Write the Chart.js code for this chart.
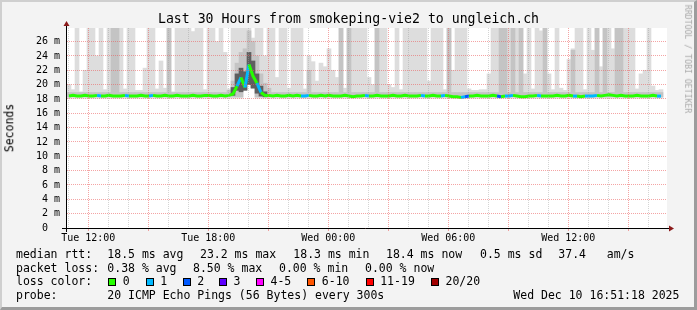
<!DOCTYPE html>
<html>
<head>
<meta charset="utf-8">
<script src="https://cdn.jsdelivr.net/npm/chart.js@4.4.0/dist/chart.umd.min.js"></script>
<style>
  html, body { margin: 0; padding: 0; }
  body { width: 697px; height: 310px; overflow: hidden; position: relative; background: #f3f3f3; font-family: 'DejaVu Sans Mono', monospace; }
  #frame { position: absolute; left: 0; top: 0; width: 697px; height: 310px; box-sizing: border-box;
           border-top: 2px solid #cfcfcf; border-left: 2px solid #cfcfcf; border-right: 3px solid #9c9c9c; border-bottom: 3px solid #9c9c9c; }
  canvas { position: absolute; left: 0; top: 0; }
  .t { position: absolute; white-space: pre; line-height: 1; color: #000; font-size: 11.5px; }
  #title { left: 0; width: 697px; top: 12px; text-align: center; font-size: 13.2px; }
  #ylab { left: 10px; top: 127.5px; transform: translate(-50%, -50%) rotate(-90deg); font-size: 11.5px; }
  #wm { left: 688px; top: 59px; transform: translate(-50%, -50%) rotate(90deg); font-size: 8.2px; color: #a8a8a8; }
  .box { position: absolute; width: 6px; height: 6px; border: 1px solid #000; top: 278px; }
</style>
</head>
<body>
<div id="frame"></div>
<canvas id="chart" width="697" height="310"></canvas>
<div class="t" id="title">Last 30 Hours from smokeping-vie2 to ungleich.ch</div>
<div class="t" id="ylab">Seconds</div>
<div class="t" id="wm">RRDTOOL / TOBI OETIKER</div>

<div class="t" style="left:16px;top:249px">median rtt:</div>
<div class="t" style="left:107.3px;top:249px">18.5 ms avg</div>
<div class="t" style="left:200px;top:249px">23.2 ms max</div>
<div class="t" style="left:293.3px;top:249px">18.3 ms min</div>
<div class="t" style="left:386px;top:249px">18.4 ms now</div>
<div class="t" style="left:480px;top:249px">0.5 ms sd</div>
<div class="t" style="left:558.3px;top:249px">37.4   am/s</div>

<div class="t" style="left:16px;top:262.6px">packet loss:</div>
<div class="t" style="left:107.3px;top:262.6px">0.38 % avg</div>
<div class="t" style="left:193px;top:262.6px">8.50 % max</div>
<div class="t" style="left:279px;top:262.6px">0.00 % min</div>
<div class="t" style="left:365px;top:262.6px">0.00 % now</div>

<div class="t" style="left:16px;top:276.3px">loss color:</div>
<div id="losslegend"></div>

<div class="t" style="left:16px;top:289.6px">probe:</div>
<div class="t" style="left:107.3px;top:289.6px">20 ICMP Echo Pings (56 Bytes) every 300s</div>
<div class="t" style="left:513.3px;top:289.6px">Wed Dec 10 16:51:18 2025</div>

<script>
// time axis: graph starts Tue 10:56, one smoke column = 12 minutes
const startHour = 10.935;
const colHours = 0.2;

const xTickHours = [12, 18, 24, 30, 36];
const xTickLabels = ['Tue 12:00', 'Tue 18:00', 'Wed 00:00', 'Wed 06:00', 'Wed 12:00'];
const yTickValues = [0, 2, 4, 6, 8, 10, 12, 14, 16, 18, 20, 22, 24, 26];
const yTickLabels = ['0  ', '2 m', '4 m', '6 m', '8 m', '10 m', '12 m', '14 m', '16 m', '18 m', '20 m', '22 m', '24 m', '26 m'];

const lossLabels = ['0', '1', '2', '3', '4-5', '6-10', '11-19', '20/20'];
const lossColors = ['#26ff00', '#00b8ff', '#0059ff', '#5e00ff', '#ff00ff', '#ff5500', '#ff0000', '#a10000'];
const lossBoxX = [108.3, 145.7, 182.7, 219, 256, 307.3, 365.7, 431];

// smoke, ms: outer band top (light), inner band top (mid)
const smokeMax = [
  20.0, 19.3, 28, 19.0, 22.0, 28, 28, 24.0, 28, 19.3, 28, 28, 28, 28, 19.4, 28, 28, 19.2, 19.2, 22.3,
  28, 28, 19.4, 23.3, 19.5, 28, 19.0, 28, 28, 28,
  28, 27.4, 28, 28, 19.3, 28, 28, 26, 28, 24.5, 19.4, 28, 28, 28, 28, 28, 26.5, 28, 28, 24,
  28, 28, 21, 28, 28, 19.5, 28, 28, 28, 19.4,
  24, 23.2, 20.5, 23, 22.5, 25, 22, 21, 28, 19.5, 28, 28, 28, 28, 28, 21, 20, 28, 28, 28,
  20, 19.6, 28, 19.3, 28, 28, 28, 28, 28, 28,
  20.5, 28, 28, 28, 19.3, 28, 22, 28, 28, 28, 19.4, 19.2, 19.2, 19.3, 19.3, 21.5, 28, 28, 28, 28,
  28, 28, 28, 28, 21.5, 28, 19.4, 28, 27.5, 28,
  21.5, 19.3, 28, 19.5, 19.2, 23.5, 25, 28, 28, 19.3, 28, 24.8, 28, 22.5, 28, 28, 25, 28, 28, 28,
  28, 28, 19.4, 21.5, 22, 28, 19.8, 19.2, 19.3
];
const smokeMid = [
  18.9, 18.9, 18.9, 18.9, 18.9, 18.9, 18.9, 18.9, 18.9, 18.9, 18.9, 28, 28, 18.9, 18.9, 18.9, 18.9, 18.9, 18.9, 18.9,
  18.9, 18.9, 18.9, 18.9, 18.9, 28, 18.9, 18.9, 18.9, 18.9,
  18.9, 18.9, 18.9, 18.9, 18.9, 18.9, 18.9, 18.9, 18.9, 18.9, 19.2, 20.5, 23, 24.5, 25, 27.5, 26, 24, 21.5, 20.2,
  19.5, 18.9, 18.9, 18.9, 18.9, 18.9, 18.9, 18.9, 18.9, 18.9,
  22, 18.9, 18.9, 18.9, 18.9, 18.9, 18.9, 18.9, 28, 18.9, 28, 18.9, 18.9, 18.9, 18.9, 18.9, 18.9, 28, 18.9, 18.9,
  18.9, 18.9, 18.9, 18.9, 18.9, 18.9, 18.9, 18.9, 18.9, 18.9,
  18.9, 18.9, 18.9, 18.9, 18.9, 28, 18.9, 18.9, 18.9, 18.9, 18.9, 18.9, 18.9, 18.9, 18.9, 18.9, 18.9, 18.9, 28, 28,
  18.9, 28, 18.9, 28, 18.9, 18.9, 18.9, 18.9, 18.9, 28,
  18.9, 18.9, 18.9, 18.9, 18.9, 18.9, 24.8, 18.9, 18.9, 18.9, 18.9, 18.9, 28, 18.9, 28, 18.9, 18.9, 28, 28, 18.9,
  18.9, 18.9, 18.9, 18.9, 18.9, 18.9, 18.9, 18.9, 18.9
];
const smokeFloor = 18.1;
const raisedFloor = { 44: 19.3, 45: 20.0, 46: 19.6 };

// dense core of the smoke during the evening peak
const darkFrom = 41;
const darkTop = [19.6, 21.5, 22.3, 21.8, 24.5, 23.3, 21.5, 19.8, 19.0];
const darkLow = [18.5, 19.2, 19.0, 19.2, 20.0, 19.5, 18.8, 18.4, 18.3];

// median rtt (ms) and loss class per column
const median = [
  18.4, 18.5, 18.4, 18.4, 18.5, 18.4, 18.4, 18.5, 18.4, 18.4, 18.5, 18.4, 18.4, 18.4, 18.5, 18.4, 18.4, 18.4, 18.5, 18.4,
  18.4, 18.5, 18.4, 18.4, 18.5, 18.4, 18.4, 18.5, 18.4, 18.4,
  18.4, 18.5, 18.4, 18.4, 18.5, 18.5, 18.4, 18.4, 18.5, 18.4, 18.5, 18.7, 19.8, 21.0, 19.6, 22.8, 21.2, 20.2, 18.9, 18.5,
  18.5, 18.4, 18.5, 18.4, 18.4, 18.5, 18.4, 18.5, 18.4, 18.4,
  18.5, 18.4, 18.4, 18.5, 18.4, 18.5, 18.4, 18.4, 18.4, 18.5, 18.4, 18.3, 18.4, 18.4, 18.5, 18.4, 18.4, 18.5, 18.4, 18.4,
  18.4, 18.5, 18.4, 18.4, 18.5, 18.4, 18.4, 18.4, 18.5, 18.4,
  18.4, 18.5, 18.4, 18.4, 18.5, 18.4, 18.3, 18.3, 18.2, 18.3, 18.4, 18.4, 18.5, 18.4, 18.4, 18.4, 18.5, 18.4, 18.3, 18.4,
  18.4, 18.5, 18.4, 18.3, 18.3, 18.4, 18.4, 18.5, 18.4, 18.4,
  18.4, 18.4, 18.5, 18.4, 18.4, 18.5, 18.4, 18.4, 18.3, 18.4, 18.4, 18.4, 18.5, 18.4, 18.5, 18.6, 18.5, 18.4, 18.5, 18.4,
  18.4, 18.4, 18.5, 18.4, 18.4, 18.4, 18.5, 18.4, 18.4
];
const loss = [
  1, 0, 0, 0, 0, 0, 0, 0, 1, 0, 0, 0, 0, 0, 0, 1, 0, 0, 0, 0,
  0, 1, 0, 0, 0, 0, 0, 0, 0, 0,
  0, 0, 0, 0, 0, 0, 0, 0, 0, 0, 0, 0, 0, 1, 0, 1, 0, 0, 1, 0,
  0, 0, 0, 0, 0, 0, 0, 0, 0, 1,
  1, 0, 0, 0, 0, 0, 0, 0, 0, 0, 0, 0, 0, 0, 0, 1, 0, 0, 0, 0,
  0, 0, 0, 0, 0, 0, 0, 0, 0, 1,
  0, 0, 0, 0, 1, 0, 0, 0, 0, 1, 2, 0, 0, 0, 0, 0, 0, 0, 2, 0,
  1, 1, 0, 0, 0, 0, 0, 0, 1, 0,
  0, 0, 0, 0, 0, 0, 0, 1, 0, 0, 1, 1, 1, 0, 0, 0, 0, 0, 0, 0,
  0, 0, 0, 0, 0, 0, 0, 0, 1
];

const RED = 'rgba(235, 90, 90, 0.55)';
const GRAY = 'rgba(160, 160, 160, 0.45)';

const xs = smokeMax.map((_, i) => startHour + (i + 0.5) * colHours);

// loss legend boxes
const lossBox = document.getElementById('losslegend');
lossLabels.forEach((lab, i) => {
  const b = document.createElement('div');
  b.className = 'box';
  b.style.left = lossBoxX[i] + 'px';
  b.style.background = lossColors[i];
  lossBox.appendChild(b);
  const t = document.createElement('div');
  t.className = 't';
  t.style.left = (lossBoxX[i] + 14.5) + 'px';
  t.style.top = '276.3px';
  t.innerText = lab;
  lossBox.appendChild(t);
});

const axisPlugin = {
  id: 'rrdAxis',
  beforeDraw(chart) {
    const { ctx, chartArea: a } = chart;
    ctx.save();
    ctx.fillStyle = '#fff';
    ctx.fillRect(a.left, a.top, a.right - a.left, a.bottom - a.top);
    ctx.restore();
  },
  afterDraw(chart) {
    const { ctx, chartArea: a } = chart;
    ctx.save();
    ctx.strokeStyle = '#000';
    ctx.lineWidth = 1;
    ctx.beginPath();
    ctx.moveTo(a.left - 5, a.bottom + 0.5);
    ctx.lineTo(a.right + 2, a.bottom + 0.5);
    ctx.moveTo(a.left - 0.5, a.bottom + 4);
    ctx.lineTo(a.left - 0.5, a.top - 2);
    ctx.stroke();
    ctx.fillStyle = '#8b1a1a';
    ctx.beginPath();
    ctx.moveTo(a.left - 0.5, a.top - 7);
    ctx.lineTo(a.left - 3.5, a.top - 2);
    ctx.lineTo(a.left + 2.5, a.top - 2);
    ctx.closePath();
    ctx.fill();
    ctx.beginPath();
    ctx.moveTo(a.right + 7, a.bottom + 0.5);
    ctx.lineTo(a.right + 2, a.bottom - 2.5);
    ctx.lineTo(a.right + 2, a.bottom + 3.5);
    ctx.closePath();
    ctx.fill();
    ctx.restore();
  }
};

const hourTicks = [];
for (let h = Math.ceil(startHour); h < startHour + 30; h++) hourTicks.push(h);
const msTicks = [];
for (let v = 0; v <= 27; v++) msTicks.push(v);

const tickFont = { family: "'DejaVu Sans Mono'", size: 10 };

new Chart(document.getElementById('chart'), {
  data: {
    datasets: [
      {
        type: 'line',
        data: median.map((v, i) => ({ x: xs[i], y: v })),
        borderColor: lossColors[0],
        borderWidth: 3,
        pointRadius: 0,
        segment: { borderColor: c => lossColors[loss[c.p1DataIndex]] },
        order: 0
      },
      {
        type: 'bar',
        data: darkTop.map((v, i) => ({ x: xs[darkFrom + i], y: [darkLow[i], v] })),
        backgroundColor: '#5f5f5f',
        order: 1
      },
      {
        type: 'bar',
        data: smokeMid.map((v, i) => ({ x: xs[i], y: [raisedFloor[i] || smokeFloor + 0.2, v] })),
        backgroundColor: '#c4c4c4',
        order: 2
      },
      {
        type: 'bar',
        data: smokeMax.map((v, i) => ({ x: xs[i], y: [raisedFloor[i] || smokeFloor, v] })),
        backgroundColor: '#dddddd',
        order: 3
      }
    ]
  },
  options: {
    responsive: false,
    animation: false,
    devicePixelRatio: 1,
    layout: { padding: { top: 28, right: 30, bottom: 66, left: 0 } },
    datasets: {
      bar: { grouped: false, barPercentage: 1, categoryPercentage: 1, borderWidth: 0 }
    },
    plugins: { legend: { display: false }, tooltip: { enabled: false } },
    scales: {
      x: {
        type: 'linear',
        min: startHour,
        max: startHour + 30,
        offset: false,
        afterBuildTicks: s => { s.ticks = hourTicks.map(v => ({ value: v })); },
        afterFit: s => { s.height = 16; },
        grid: {
          z: 1,
          offset: false,
          lineWidth: 1,
          color: c => (c.tick && c.tick.value % 3 === 0) ? RED : GRAY,
          tickLength: 3,
          tickColor: c => (c.tick && c.tick.value % 3 === 0) ? RED : 'rgba(0,0,0,0)'
        },
        border: { display: false, dash: [1, 1] },
        ticks: {
          autoSkip: false, maxRotation: 0, padding: 1, color: '#000', font: tickFont,
          callback: v => { const k = xTickHours.indexOf(v); return k >= 0 ? xTickLabels[k] : ''; }
        }
      },
      y: {
        type: 'linear',
        min: 0,
        max: 27.9,
        afterBuildTicks: s => { s.ticks = msTicks.map(v => ({ value: v })); },
        afterFit: s => { s.width = 67; },
        grid: {
          z: 1,
          lineWidth: 1,
          drawTicks: false,
          color: c => (c.tick && c.tick.value % 2 === 0) ? RED : GRAY
        },
        border: { display: false, dash: [1, 1] },
        ticks: {
          padding: 7, color: '#000', font: tickFont,
          callback: v => { const k = yTickValues.indexOf(v); return k >= 0 ? yTickLabels[k] : ''; }
        }
      }
    }
  },
  plugins: [axisPlugin]
});
</script>
</body>
</html>
